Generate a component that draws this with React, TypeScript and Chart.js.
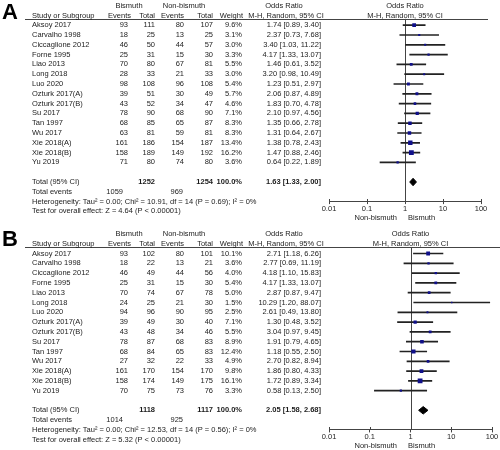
import React, { useEffect, useRef } from "react";
import { Chart, registerables } from "chart.js";

Chart.register(...registerables);

// ---------- shared ----------
const studies = [
  "Aksoy 2017", "Carvalho 1998", "Ciccaglione 2012", "Forne 1995", "Liao 2013",
  "Long 2018", "Luo 2020", "Ozturk 2017(A)", "Ozturk 2017(B)", "Su 2017",
  "Tan 1997", "Wu 2017", "Xie 2018(A)", "Xie 2018(B)", "Yu 2019",
];
const tickValues = [0.01, 0.1, 1, 10, 100];
const tickLabels = ["0.01", "0.1", "1", "10", "100"];

// ---------- panel A ----------
const aBisEvents = [93, 18, 46, 25, 70, 28, 98, 39, 43, 78, 68, 63, 161, 158, 71];
const aBisTotal = [111, 25, 50, 31, 80, 33, 108, 51, 52, 90, 85, 81, 186, 189, 80];
const aNonEvents = [80, 13, 44, 15, 67, 21, 96, 30, 34, 68, 65, 59, 154, 149, 74];
const aNonTotal = [107, 25, 57, 30, 81, 33, 108, 49, 47, 90, 87, 81, 187, 192, 80];
const aWeight = [9.6, 3.1, 3.0, 3.3, 5.5, 3.0, 5.4, 5.7, 4.6, 7.1, 8.3, 8.3, 13.4, 16.2, 3.6];
const aOR = [1.74, 2.37, 3.40, 4.17, 1.46, 3.20, 1.23, 2.06, 1.83, 2.10, 1.35, 1.31, 1.38, 1.47, 0.64];
const aLow = [0.89, 0.73, 1.03, 1.33, 0.61, 0.98, 0.51, 0.87, 0.70, 0.97, 0.66, 0.64, 0.78, 0.88, 0.22];
const aHigh = [3.40, 7.68, 11.22, 13.07, 3.52, 10.49, 2.97, 4.89, 4.78, 4.56, 2.78, 2.67, 2.43, 2.46, 1.89];
const aTotals = { bisTotal: 1252, nonTotal: 1254, bisEvents: 1059, nonEvents: 969 };
const aPooled = [1.63, 1.33, 2.00];
const aHet = "Heterogeneity: Tau² = 0.00; Chi² = 10.91, df = 14 (P = 0.69); I² = 0%";
const aTest = "Test for overall effect: Z = 4.64 (P < 0.00001)";

// ---------- panel B ----------
const bBisEvents = [93, 18, 46, 25, 70, 24, 94, 39, 43, 78, 68, 27, 161, 158, 70];
const bBisTotal = [102, 22, 49, 31, 74, 25, 96, 49, 48, 87, 84, 32, 170, 174, 75];
const bNonEvents = [80, 13, 44, 15, 67, 21, 90, 30, 34, 68, 65, 22, 154, 149, 73];
const bNonTotal = [101, 21, 56, 30, 78, 30, 95, 40, 46, 83, 83, 33, 170, 175, 76];
const bWeight = [10.1, 3.6, 4.0, 5.4, 5.0, 1.5, 2.5, 7.1, 5.5, 8.9, 12.4, 4.9, 9.8, 16.1, 3.3];
const bOR = [2.71, 2.77, 4.18, 4.17, 2.87, 10.29, 2.61, 1.30, 3.04, 1.91, 1.18, 2.70, 1.86, 1.72, 0.58];
const bLow = [1.18, 0.69, 1.10, 1.33, 0.87, 1.20, 0.49, 0.48, 0.97, 0.79, 0.55, 0.82, 0.80, 0.89, 0.13];
const bHigh = [6.26, 11.19, 15.83, 13.07, 9.47, 88.07, 13.80, 3.52, 9.45, 4.65, 2.50, 8.94, 4.33, 3.34, 2.50];
const bTotals = { bisTotal: 1118, nonTotal: 1117, bisEvents: 1014, nonEvents: 925 };
const bPooled = [2.05, 1.58, 2.68];
const bHet = "Heterogeneity: Tau² = 0.00; Chi² = 12.53, df = 14 (P = 0.56); I² = 0%";
const bTest = "Test for overall effect: Z = 5.32 (P < 0.00001)";

const FONT = "'Liberation Sans', Arial, sans-serif";
const FS = 7.5;
const TXT = "#1c1c1c";

type PanelData = {
  letter: string;
  bisEvents: number[]; bisTotal: number[]; nonEvents: number[]; nonTotal: number[];
  weight: number[]; or: number[]; low: number[]; high: number[];
  totals: { bisTotal: number; nonTotal: number; bisEvents: number; nonEvents: number };
  pooled: number[]; het: string; test: string;
};
type PanelLayout = {
  height: number; row0: number; step: number; right: number; lineRight: number; letterTop: number;
};

const fmt2 = (v: number) => v.toFixed(2);
const ciText = (o: number, l: number, h: number) => `${fmt2(o)} [${fmt2(l)}, ${fmt2(h)}]`;

function Panel({ d, lay }: { d: PanelData; lay: PanelLayout }) {
  const ref = useRef<HTMLCanvasElement | null>(null);
  useEffect(() => {
    const canvas = ref.current;
    if (!canvas) return;
    const rows = studies.map((_, i) => i);
    const totalRow = studies.length + 1;
    const yMin = -0.65;
    const yMax = 17.95;
    const top = lay.row0 + yMin * lay.step;
    const bottom = lay.row0 + yMax * lay.step;
    const axisH = lay.height - bottom;

    const textPlugin = {
      id: "forestText",
      beforeDatasetsDraw(chart: any) {
        const ctx = chart.ctx;
        const ca = chart.chartArea;
        const xs = chart.scales.x;
        ctx.save();
        ctx.strokeStyle = "#444";
        ctx.lineWidth = 1;
        const hy = Math.round(ca.top) + 0.5;
        ctx.beginPath();
        ctx.moveTo(25, hy);
        ctx.lineTo(lay.lineRight, hy);
        ctx.stroke();
        const x1 = Math.round(xs.getPixelForValue(1)) + 0.5;
        ctx.beginPath();
        ctx.moveTo(x1, ca.top);
        ctx.lineTo(x1, ca.bottom);
        ctx.stroke();
        // small upward tick marks so the axis ticks cross the axis line
        const yb = Math.round(ca.bottom);
        tickValues.forEach((v) => {
          const tx = Math.round(xs.getPixelForValue(v)) + 0.5;
          ctx.beginPath();
          ctx.moveTo(tx, yb - 2);
          ctx.lineTo(tx, yb);
          ctx.stroke();
        });
        ctx.restore();
      },
      afterDraw(chart: any) {
        const ctx = chart.ctx;
        const ys = chart.scales.y;
        const xs = chart.scales.x;
        const ca = chart.chartArea;
        const Y = (r: number) => ys.getPixelForValue(r);
        const put = (t: string, x: number, y: number, align: CanvasTextAlign, bold = false) => {
          ctx.font = `${bold ? "bold " : ""}${FS}px ${FONT}`;
          ctx.textAlign = align;
          ctx.fillText(t, x, y);
        };
        ctx.save();
        ctx.font = `bold 22px ${FONT}`;
        ctx.textAlign = "left";
        ctx.textBaseline = "top";
        ctx.fillStyle = "#000";
        ctx.fillText(d.letter, 2, lay.letterTop);
        ctx.fillStyle = TXT;
        ctx.textBaseline = "middle";
        const h1 = Y(-2);
        const h2 = Y(-0.95);
        const xOne = xs.getPixelForValue(1);
        put("Bismuth", 129, h1, "center");
        put("Non-bismuth", 184, h1, "center");
        put("Odds Ratio", 284, h1, "center");
        put("Odds Ratio", xOne, h1, "center");
        put("Study or Subgroup", 32, h2, "left");
        put("Events", 131, h2, "right");
        put("Total", 155, h2, "right");
        put("Events", 184, h2, "right");
        put("Total", 213, h2, "right");
        put("Weight", 243, h2, "right");
        put("M-H, Random, 95% CI", 286, h2, "center");
        put("M-H, Random, 95% CI", xOne, h2, "center");
        rows.forEach((i) => {
          const y = Y(i);
          put(studies[i], 32, y, "left");
          put(String(d.bisEvents[i]), 128, y, "right");
          put(String(d.bisTotal[i]), 155, y, "right");
          put(String(d.nonEvents[i]), 184, y, "right");
          put(String(d.nonTotal[i]), 213, y, "right");
          put(d.weight[i].toFixed(1) + "%", 242, y, "right");
          put(ciText(d.or[i], d.low[i], d.high[i]), 321, y, "right");
        });
        const yt = Y(totalRow);
        put("Total (95% CI)", 32, yt, "left");
        put(String(d.totals.bisTotal), 155, yt, "right", true);
        put(String(d.totals.nonTotal), 213, yt, "right", true);
        put("100.0%", 242, yt, "right", true);
        put(ciText(d.pooled[0], d.pooled[1], d.pooled[2]), 321, yt, "right", true);
        const ye = Y(totalRow + 1);
        put("Total events", 32, ye, "left");
        put(String(d.totals.bisEvents), 123, ye, "right");
        put(String(d.totals.nonEvents), 183, ye, "right");
        put(d.het, 32, Y(totalRow + 2), "left");
        put(d.test, 32, Y(totalRow + 3), "left");
        const yf = ca.bottom + 16.5;
        put("Non-bismuth", 397, yf, "right");
        put("Bismuth", 408, yf, "left");
        ctx.restore();
      },
    };

    const diamond = [
      { x: d.pooled[1], y: totalRow },
      { x: d.pooled[0], y: totalRow - 0.38 },
      { x: d.pooled[2], y: totalRow },
      { x: d.pooled[0], y: totalRow + 0.38 },
      { x: d.pooled[1], y: totalRow },
    ];

    const chart = new Chart(canvas, {
      type: "bar",
      data: {
        datasets: [
          {
            type: "bar",
            data: rows.map((i) => ({ x: [d.low[i], d.high[i]], y: i })),
            backgroundColor: "#222",
            borderWidth: 0,
            barThickness: 1,
            order: 3,
          } as any,
          {
            type: "scatter",
            data: rows.map((i) => ({ x: d.or[i], y: i })),
            pointStyle: "rect",
            pointRadius: (c: any) => 0.85 * Math.sqrt(d.weight[c.dataIndex]),
            backgroundColor: "#10108a",
            borderWidth: 0,
            order: 2,
          } as any,
          {
            type: "line",
            data: diamond,
            fill: "shape",
            backgroundColor: "#000",
            borderColor: "#000",
            borderWidth: 1,
            pointRadius: 0,
            tension: 0,
            order: 1,
          } as any,
        ],
      },
      options: {
        indexAxis: "y",
        animation: false,
        responsive: false,
        devicePixelRatio: 1,
        events: [],
        layout: { padding: { left: 329, right: lay.right, top, bottom: 0 } },
        plugins: { legend: { display: false }, tooltip: { enabled: false }, title: { display: false } },
        scales: {
          x: {
            type: "logarithmic",
            min: 0.01,
            max: 100,
            position: "bottom",
            offset: false,
            afterBuildTicks: (sc: any) => {
              sc.ticks = tickValues.map((v) => ({ value: v }));
            },
            afterFit: (sc: any) => {
              sc.height = axisH;
            },
            ticks: {
              callback: (_v: any, i: number) => tickLabels[i],
              font: { family: FONT, size: FS },
              color: TXT,
              padding: 0,
              maxRotation: 0,
              autoSkip: false,
            },
            grid: { display: true, drawOnChartArea: false, drawTicks: true, tickLength: 3, color: "#444", offset: false },
            border: { display: true, color: "#444", width: 1 },
          },
          y: {
            type: "linear",
            min: yMin,
            max: yMax,
            reverse: true,
            offset: false,
            grid: { offset: false },
            display: false,
          },
        },
      } as any,
      plugins: [textPlugin],
    });
    return () => chart.destroy();
  }, [d, lay]);
  return <canvas ref={ref} width={500} height={lay.height} style={{ display: "block", width: 500, height: lay.height }} />;
}

const panelA: PanelData = {
  letter: "A", bisEvents: aBisEvents, bisTotal: aBisTotal, nonEvents: aNonEvents, nonTotal: aNonTotal,
  weight: aWeight, or: aOR, low: aLow, high: aHigh, totals: aTotals, pooled: aPooled, het: aHet, test: aTest,
};
const panelB: PanelData = {
  letter: "B", bisEvents: bBisEvents, bisTotal: bBisTotal, nonEvents: bNonEvents, nonTotal: bNonTotal,
  weight: bWeight, or: bOR, low: bLow, high: bHigh, totals: bTotals, pooled: bPooled, het: bHet, test: bTest,
};
const layoutA: PanelLayout = { height: 225, row0: 25.2, step: 9.8, right: 19, lineRight: 488, letterTop: 2 };
const layoutB: PanelLayout = { height: 225, row0: 28.5, step: 9.8, right: 8, lineRight: 500, letterTop: 4 };

export default function App() {
  return (
    <div style={{ position: "absolute", left: 0, top: 0, width: 500, height: 450, background: "#fff" }}>
      <Panel d={panelA} lay={layoutA} />
      <Panel d={panelB} lay={layoutB} />
    </div>
  );
}
